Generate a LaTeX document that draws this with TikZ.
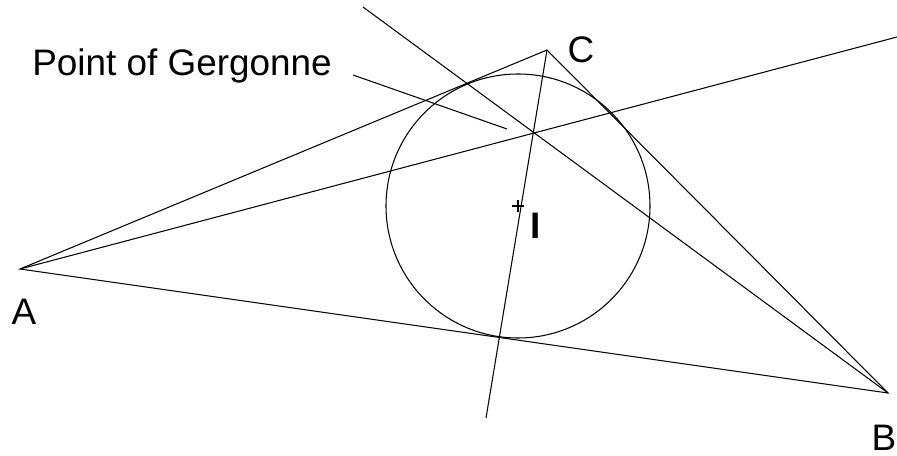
\documentclass[tikz,border=0pt]{standalone}
\usepackage{fontspec}
\setmainfont{Liberation Sans}
\usetikzlibrary{calc}

\tikzset{
  geo/.style={line width=0.6pt},
  vlabel/.style={font=\fontsize{21}{24}\selectfont, inner sep=0pt},
  txtlabel/.style={font=\fontsize{21}{24}\selectfont, inner sep=0pt, anchor=base west}
}

\begin{document}
\begin{tikzpicture}[x=0.02cm, y=-0.02cm]
\useasboundingbox (0,0) rectangle (897,456);
% Triangle vertices
\coordinate (A) at (20,269);
\coordinate (B) at (888,393);
\coordinate (C) at (547,50);
% Incircle centre and point of Gergonne
\coordinate (I) at (518,206);
\coordinate (G) at (535,133);
% Free ends of the cevians
\coordinate (Aend) at (897,37);
\coordinate (Bend) at (363,7);
\coordinate (Cend) at (486,418);

% Triangle
\draw[geo] (A) -- (C) -- (B) -- cycle;
% Incircle
\draw[geo] (I) circle (132);
\draw[geo] ($(I)+(-6,0)$) -- ($(I)+(6,0)$);
\draw[geo] ($(I)+(0,-6)$) -- ($(I)+(0,6)$);

% Cevians through the tangent points
\draw[geo] (A) -- (Aend);
\draw[geo] (Bend) -- (B);
\draw[geo] (C) -- (Cend);

% Labels
\node[vlabel] (lA) at (24,312) {A};
\node[vlabel] (lB) at (884,438) {B};
\node[vlabel] (lC) at (581,50) {C};
\node[vlabel, font=\fontsize{21}{24}\bfseries] (lI) at (536,226) {I};
\node[txtlabel] (lG) at (32,76) {Point of Gergonne};
\coordinate (ptr) at (353,75);
\coordinate (ptrend) at (507,129);
\draw[geo] (ptr) -- (ptrend);
\end{tikzpicture}
\end{document}
